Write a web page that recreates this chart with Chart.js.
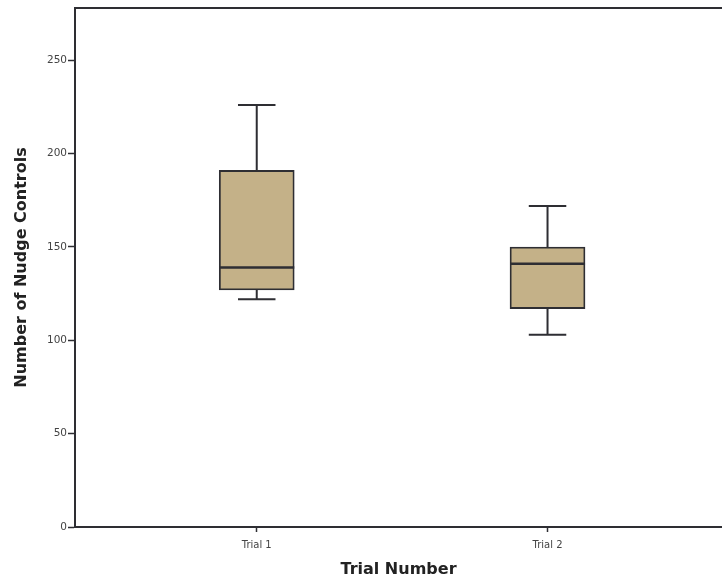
<!DOCTYPE html>
<html>
<head>
<meta charset="utf-8">
<script src="https://cdn.jsdelivr.net/npm/chart.js@4/dist/chart.umd.min.js"></script>
<style>
  html, body { margin: 0; padding: 0; background: #fff; overflow: hidden; }
  #wrap { width: 722px; height: 583px; }
</style>
</head>
<body>
<div id="wrap"><canvas id="box"></canvas></div>
<script>
// Box plot data
var trials = ['Trial 1', 'Trial 2'];
var trialPos = [1, 2];
var whiskerLow = [122, 103];
var q1 = [127, 117];
var median = [139, 141];
var q3 = [191, 150];
var whiskerHigh = [226, 172];
var yTicks = [0, 50, 100, 150, 200, 250];

var ink = '#2e2e33';

// whiskers, caps and medians are drawn with the chart scales
var boxExtras = {
    id: 'boxExtras',
    afterDatasetsDraw: function(chart) {
        var ctx = chart.ctx;
        var xs = chart.scales.x, ys = chart.scales.y;
        var meta = chart.getDatasetMeta(0);
        ctx.save();
        ctx.strokeStyle = ink;
        for (var i = 0; i < trialPos.length; i++) {
            var cx = xs.getPixelForValue(trialPos[i]);
            var half = meta.data[i].width / 2;
            var cap = half / 2;
            ctx.lineWidth = 2;
            ctx.beginPath();
            ctx.moveTo(cx, ys.getPixelForValue(q3[i]));
            ctx.lineTo(cx, ys.getPixelForValue(whiskerHigh[i]));
            ctx.moveTo(cx, ys.getPixelForValue(q1[i]));
            ctx.lineTo(cx, ys.getPixelForValue(whiskerLow[i]));
            ctx.moveTo(cx - cap, ys.getPixelForValue(whiskerHigh[i]));
            ctx.lineTo(cx + cap, ys.getPixelForValue(whiskerHigh[i]));
            ctx.moveTo(cx - cap, ys.getPixelForValue(whiskerLow[i]));
            ctx.lineTo(cx + cap, ys.getPixelForValue(whiskerLow[i]));
            ctx.stroke();
            ctx.lineWidth = 2.5;
            ctx.beginPath();
            ctx.moveTo(cx - half, ys.getPixelForValue(median[i]));
            ctx.lineTo(cx + half, ys.getPixelForValue(median[i]));
            ctx.stroke();
        }
        // top frame line
        var a = chart.chartArea;
        ctx.lineWidth = 2;
        ctx.beginPath();
        ctx.moveTo(a.left, a.top);
        ctx.lineTo(chart.width, a.top);
        ctx.stroke();
        ctx.restore();
    }
};

var boxData = [];
for (var i = 0; i < trials.length; i++) {
    boxData.push({x: trialPos[i], y: [q1[i], q3[i]]});
}

var chart = new Chart(document.getElementById('box'), {
    type: 'bar',
    data: {
        datasets: [{
            data: boxData,
            backgroundColor: 'rgb(196,177,136)',
            borderColor: ink,
            borderWidth: 1.8,
            borderSkipped: false,
            barThickness: 75
        }]
    },
    plugins: [boxExtras],
    options: {
        responsive: true,
        maintainAspectRatio: false,
        animation: false,
        layout: { padding: { top: 8, right: 0, left: 0, bottom: 0 } },
        plugins: { legend: { display: false }, tooltip: { enabled: false } },
        scales: {
            x: {
                type: 'linear',
                min: 0.375,
                max: 2.6,
                offset: false,
                afterBuildTicks: function(scale) {
                    scale.ticks = trialPos.map(function(v) { return {value: v}; });
                },
                afterFit: function(scale) { scale.height = 56; },
                ticks: {
                    callback: function(v) { return trials[trialPos.indexOf(v)]; },
                    color: '#444',
                    font: { family: 'DejaVu Sans', size: 10 },
                    padding: 7,
                    maxRotation: 0
                },
                grid: { offset: false, drawOnChartArea: false, tickLength: 5, color: ink, tickWidth: 1.5 },
                border: { display: true, color: ink, width: 2 },
                title: {
                    display: true,
                    text: 'Trial Number',
                    color: '#222',
                    font: { family: 'DejaVu Sans', size: 16, weight: 'bold' },
                    padding: { top: 4 }
                }
            },
            y: {
                min: 0,
                max: 278,
                afterBuildTicks: function(scale) {
                    scale.ticks = yTicks.map(function(v) { return {value: v}; });
                },
                afterFit: function(scale) { scale.width = 75; },
                ticks: {
                    color: '#444',
                    font: { family: 'DejaVu Sans', size: 10.5 },
                    padding: 1
                },
                grid: { drawOnChartArea: false, tickLength: 7, color: ink, tickWidth: 1.5 },
                border: { display: true, color: ink, width: 2 },
                title: {
                    display: true,
                    text: 'Number of Nudge Controls',
                    color: '#222',
                    font: { family: 'DejaVu Sans', size: 16, weight: 'bold' },
                    padding: { bottom: 0, top: 12 }
                }
            }
        }
    }
});
</script>
</body>
</html>
